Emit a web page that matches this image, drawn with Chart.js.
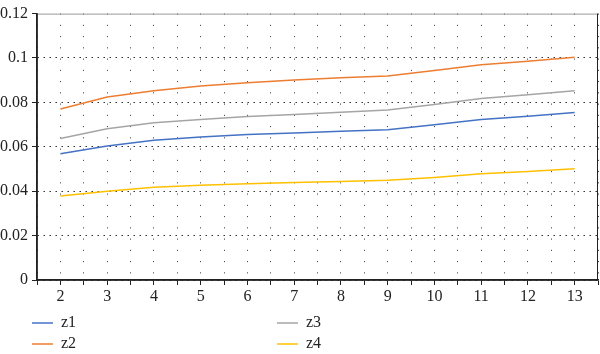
<!DOCTYPE html>
<html>
<head>
<meta charset="utf-8">
<script src="https://cdn.jsdelivr.net/npm/chart.js@4.4.1/dist/chart.umd.min.js"></script>
<style>
    html, body { margin: 0; padding: 0; background: #fff; }
    #wrap { width: 600px; height: 354px; position: relative; }
</style>
</head>
<body>
<div id="wrap"><canvas id="chartZ"></canvas></div>
<script>
const xValues = [2, 3, 4, 5, 6, 7, 8, 9, 10, 11, 12, 13];
const z1 = [0.0569, 0.0604, 0.0630, 0.0644, 0.0655, 0.0662, 0.0670, 0.0677, 0.0699, 0.0723, 0.0738, 0.0754];
const z2 = [0.0770, 0.0824, 0.0852, 0.0874, 0.0889, 0.0901, 0.0911, 0.0919, 0.0944, 0.0970, 0.0985, 0.1003];
const z3 = [0.0637, 0.0681, 0.0708, 0.0723, 0.0736, 0.0745, 0.0756, 0.0766, 0.0790, 0.0818, 0.0834, 0.0852];
const z4 = [0.0378, 0.0400, 0.0418, 0.0427, 0.0433, 0.0439, 0.0444, 0.0449, 0.0462, 0.0479, 0.0489, 0.0501];
const seriesNames = ["z1", "z2", "z3", "z4"];
const seriesColors = ["#4472C4", "#ED7D31", "#A5A5A5", "#FFC000"];

const fontFamily = "'Liberation Serif', 'DejaVu Serif', serif";

function toPoints(values) {
    return values.map((v, i) => ({x: xValues[i], y: v}));
}

const datasets = [z1, z2, z3, z4].map((values, i) => ({
    label: seriesNames[i],
    data: toPoints(values),
    borderColor: seriesColors[i],
    backgroundColor: seriesColors[i],
    borderWidth: 1.5,
    pointRadius: 0,
    tension: 0,
    fill: false,
}));

// frame on top/right, solid axis lines, and a two-column legend below the plot
const framePlugin = {
    id: "frameAndLegend",
    afterDraw(chart) {
        const ctx = chart.ctx;
        const a = chart.chartArea;
        ctx.save();
        ctx.setLineDash([]);
        ctx.lineWidth = 1;
        ctx.strokeStyle = "#9a9a9a";
        ctx.beginPath();
        ctx.moveTo(a.left, a.top + 0.5);
        ctx.lineTo(a.right, a.top + 0.5);
        ctx.stroke();
        ctx.strokeStyle = "#222";
        ctx.beginPath();
        ctx.moveTo(a.right - 0.5, a.top);
        ctx.lineTo(a.right - 0.5, a.bottom);
        ctx.stroke();
        ctx.lineWidth = 1.5;
        ctx.beginPath();
        ctx.moveTo(a.left, a.top);
        ctx.lineTo(a.left, a.bottom);
        ctx.lineTo(a.right, a.bottom);
        ctx.stroke();

        const cols = [32, 277];
        const rows = [323, 344];
        const order = [[0, 0], [1, 0], [0, 1], [1, 1]]; // [row, col] for z1..z4
        ctx.font = "16px " + fontFamily;
        ctx.textBaseline = "middle";
        ctx.fillStyle = "#222";
        chart.data.datasets.forEach((ds, i) => {
            const x = cols[order[i][1]];
            const y = rows[order[i][0]];
            ctx.strokeStyle = ds.borderColor;
            ctx.lineWidth = 1.5;
            ctx.beginPath();
            ctx.moveTo(x, y);
            ctx.lineTo(x + 21, y);
            ctx.stroke();
            ctx.fillText(ds.label, x + 29, y);
        });
        ctx.restore();
    }
};

const ctxZ = document.getElementById("chartZ").getContext("2d");
const chartZ = new Chart(ctxZ, {
    type: "line",
    data: {datasets: datasets},
    options: {
        responsive: true,
        maintainAspectRatio: false,
        animation: false,
        layout: {padding: {top: 10, right: 2, bottom: 50, left: 0}},
        plugins: {
            legend: {display: false},
            tooltip: {enabled: false},
        },
        scales: {
            x: {
                type: "linear",
                min: 1.5,
                max: 13.5,
                afterFit: (scale) => { scale.height = 24; },
                ticks: {
                    stepSize: 0.5,
                    autoSkip: false,
                    maxRotation: 0,
                    padding: 2,
                    color: "#222",
                    font: {family: fontFamily, size: 16},
                    callback: (v) => Number.isInteger(v) ? String(v) : "",
                },
                grid: {
                    color: "#333",
                    lineWidth: 1,
                    tickLength: 5,
                    tickColor: "#222",
                    tickBorderDash: [],
                },
                border: {display: true, color: "#222", width: 1.5, dash: [1, 10.25]},
            },
            y: {
                min: 0,
                max: 0.12,
                afterFit: (scale) => { scale.width = 37; },
                ticks: {
                    stepSize: 0.02,
                    padding: 4,
                    color: "#222",
                    font: {family: fontFamily, size: 16},
                    callback: (v) => String(+v.toFixed(2)),
                },
                grid: {
                    // no dotted line on the top edge, the frame covers it
                    color: (c) => (c.tick && c.tick.value >= 0.119) ? "rgba(0,0,0,0)" : "#333",
                    lineWidth: 1,
                    tickLength: 5,
                    tickColor: "#222",
                    tickBorderDash: [],
                },
                border: {display: true, color: "#222", width: 1.5, dash: [1.5, 4.5]},
            },
        },
    },
    plugins: [framePlugin],
});
</script>
</body>
</html>
